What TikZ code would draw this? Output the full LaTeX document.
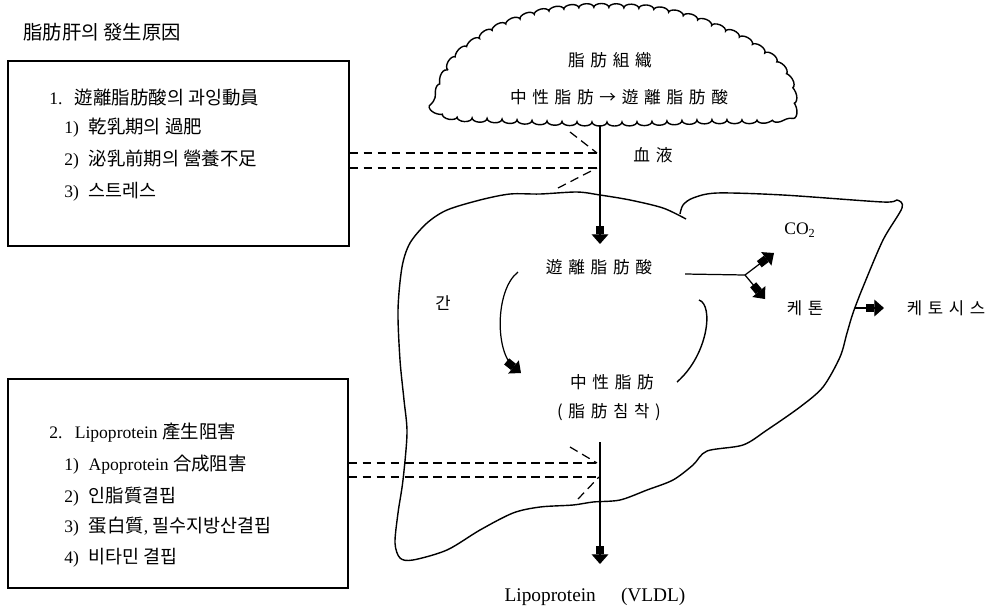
\documentclass[tikz,border=0pt]{standalone}
\usepackage{fontspec}
\setmainfont{Liberation Serif}
\newfontfamily\cjk{Noto Sans CJK KR}
\newfontfamily\cjksp[LetterSpace=34]{Noto Sans CJK KR}
\usetikzlibrary{arrows.meta, decorations.pathmorphing}
\newcommand\kt[1]{{\cjk\fontsize{10.5}{12}\selectfont #1}}

\tikzset{
  lbl/.style={inner sep=0pt, font=\cjk\fontsize{9.5}{11}\selectfont},
  splbl/.style={inner sep=0pt, font=\cjksp\fontsize{9.5}{11}\selectfont},
  item/.style={inner sep=0pt, anchor=west, font=\fontsize{10}{12}\selectfont},
  causebox/.style={draw, line width=0.9pt, anchor=north west, inner sep=0pt},
  outline/.style={line width=0.8pt},
  fat/.style={line width=0.7pt, -{Rectangle[length=5pt,width=4.5pt]Triangle[length=5.5pt,width=9.5pt]}},
  dsh/.style={line width=0.7pt, dash pattern=on 5pt off 3pt},
}

\begin{document}
\begin{tikzpicture}[x=0.02cm, y=-0.02cm]
  \useasboundingbox (0,0) rectangle (990,606);

  % title and the two boxes of causes
  \node[lbl, anchor=west, font=\cjk\fontsize{11}{13}\selectfont] (title) at (23,32) {脂肪肝의 發生原因};

  \node[causebox, minimum width=6.82cm, minimum height=3.7cm] (cause1) at (7,60) {};
  \node[item] (c1) at (49,97) {1.\hspace{0.7em}\kt{遊離脂肪酸의 과잉動員}};
  \node[item] (c1a) at (64,128) {1)\hspace{0.55em}\kt{乾乳期의 過肥}};
  \node[item] (c1b) at (64,160) {2)\hspace{0.55em}\kt{泌乳前期의 營養不足}};
  \node[item] (c1c) at (64,192) {3)\hspace{0.55em}\kt{스트레스}};

  \node[causebox, minimum width=6.8cm, minimum height=4.18cm] (cause2) at (7,378) {};
  \node[item] (c2) at (49,433) {2.\hspace{0.7em}Lipoprotein \kt{產生阻害}};
  \node[item] (c2a) at (64,465) {1)\hspace{0.55em}Apoprotein \kt{合成阻害}};
  \node[item] (c2b) at (64,497) {2)\hspace{0.55em}\kt{인脂質결핍}};
  \node[item] (c2c) at (64,527) {3)\hspace{0.55em}\kt{蛋白質}, \kt{필수지방산결핍}};
  \node[item] (c2d) at (64,558) {4)\hspace{0.55em}\kt{비타민 결핍}};

  % adipose tissue
  \draw[outline, decorate, decoration={bumps, segment length=0.6cm, amplitude=0.08cm}]
    plot[smooth cycle, tension=0.7] coordinates {(439,102) (448,70) (470,46) (508,24)
      (560,10) (625,8) (670,13) (712,26) (752,45) (782,70) (792,100) (780,117)
      (700,120) (600,122) (500,119) (450,115)};
  \node[splbl] (adipose) at (610,60) {脂肪組織};
  \node[splbl] (lipolysis) at (619,97) {中性脂肪→遊離脂肪酸};
  \node[splbl] (blood) at (653,155) {血液};

  % liver
  \draw[outline] plot[smooth, tension=0.5] coordinates {(686,219) (663,208) (630,200)
    (600,195) (577,192) (540,194) (510,194) (480,200) (447,210) (427,223) (410,243)
    (402,267) (398,310) (400,360) (404,400) (407,433) (403,480) (398,513) (395,543)
    (400,558) (413,560) (447,550) (480,530) (513,513) (540,507) (573,505) (593,502)
    (620,500) (647,490) (673,480) (693,465) (707,451) (743,445) (767,430) (800,407)
    (823,387) (840,357) (847,333) (853,313) (863,287) (883,240) (902,208) (897,200)
    (883,202) (783,195) (717,193) (693,198) (683,205) (680,214)};
  \node[lbl] (liver) at (443,303) {간};
  \node[splbl] (ffa) at (599,267) {遊離脂肪酸};
  \node[splbl] (tg) at (612,382) {中性脂肪};
  \node[splbl] (tgdep) at (609,412) {(脂肪침착)};
  \node[inner sep=0pt, font=\fontsize{10}{12}\selectfont] (co2) at (800,230) {CO\textsubscript{2}};
  \node[splbl] (ketone) at (805,308) {케톤};
  \node[splbl] (ketosis) at (946,308) {케토시스};
  \node[inner sep=0pt, font=\fontsize{11}{13}\selectfont] (lipo) at (595,597) {Lipoprotein\hspace{1.3em}(VLDL)};

  % flows
  \coordinate (cloudbot) at (600,125);
  \coordinate (ffain) at (600,244);
  \draw[fat] (cloudbot) -- (ffain);

  \coordinate (esterA) at (518,272);
  \coordinate (esterB) at (521,373);
  \draw[fat] (esterA) .. controls (495,290) and (495,352) .. (esterB);
  \coordinate (exportA) at (699,300);
  \coordinate (exportB) at (677,382);
  \draw[outline] (exportA) .. controls (714,305) and (708,355) .. (exportB);

  \coordinate (oxA) at (685,274);
  \coordinate (fork) at (745,275);
  \coordinate (co2in) at (774,253);
  \coordinate (ketin) at (765,299);
  \draw[line width=0.7pt] (oxA) -- (fork);
  \draw[fat] (fork) -- (co2in);
  \draw[fat] (fork) -- (ketin);

  \coordinate (ketout) at (855,308);
  \coordinate (ketosisin) at (884,308);
  \draw[fat] (ketout) -- (ketosisin);

  \coordinate (vldlA) at (600,442);
  \coordinate (vldlB) at (600,564);
  \draw[fat] (vldlA) -- (vldlB);

  % dashed arrows from the causes
  \coordinate (dA1) at (597,153);
  \coordinate (dB1) at (597,168);
  \coordinate (dU1) at (570,132);
  \coordinate (dL1) at (558,188);
  \draw[dsh] (cause1.east |- dA1) -- (dA1);
  \draw[dsh] (cause1.east |- dB1) -- (dB1);
  \draw[dsh] (dU1) -- (dA1);
  \draw[dsh] (dL1) -- (dB1);

  \coordinate (dA2) at (597,463);
  \coordinate (dB2) at (599,477);
  \coordinate (dU2) at (570,447);
  \coordinate (dL2) at (578,499);
  \draw[dsh] (cause2.east |- dA2) -- (dA2);
  \draw[dsh] (cause2.east |- dB2) -- (dB2);
  \draw[dsh] (dU2) -- (dA2);
  \draw[dsh] (dL2) -- (dB2);
\end{tikzpicture}
\end{document}
